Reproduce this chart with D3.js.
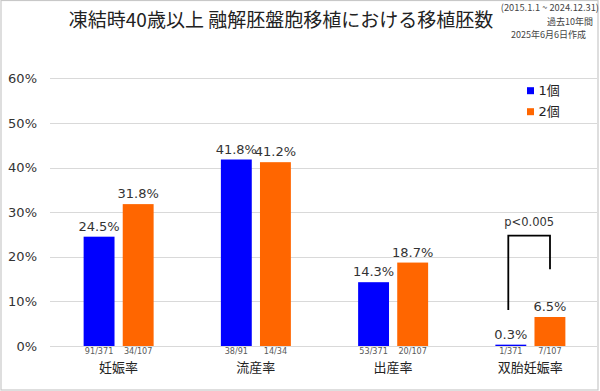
<!DOCTYPE html>
<html><head><meta charset="utf-8">
<script src="https://cdn.jsdelivr.net/npm/d3@7"></script>
<style>body{margin:0;background:#fff}svg{display:block}</style>
</head><body>
<svg id="c" width="600" height="391"></svg>
<script>
const categories = ["妊娠率", "流産率", "出産率", "双胎妊娠率"];
const series = ["1個", "2個"];
const values1 = [24.5, 41.8, 14.3, 0.3];
const values2 = [31.8, 41.2, 18.7, 6.5];
const fractions1 = ["91/371", "38/91", "53/371", "1/371"];
const fractions2 = ["34/107", "14/34", "20/107", "7/107"];
const yTicks = [0, 10, 20, 30, 40, 50, 60];
const colors = ["#0000FF", "#FF6600"];
const title = "凍結時40歳以上 融解胚盤胞移植における移植胚数";
const notes = ["(2015.1.1 ~ 2024.12.31)", "過去10年間", "2025年6月6日作成"];
const pText = "p<0.005";

const svg = d3.select("#c");
const numFont = "'DejaVu Sans', 'Noto Sans CJK JP', sans-serif";
const cjkFont = "'Noto Sans CJK JP', sans-serif";

// outer border
svg.append("rect").attr("x", 1).attr("y", 0.5).attr("width", 597).attr("height", 389.5)
  .attr("fill", "none").attr("stroke", "#c8c8c8").attr("stroke-width", 1.2);

const y = d3.scaleLinear().domain([0, 60]).range([346, 78.3]);
const x0 = d3.scaleBand().domain(categories).range([50, 599]).paddingInner(0.49).paddingOuter(0.245);
const x1 = d3.scaleBand().domain(series).range([0, x0.bandwidth()]).paddingInner(0.21);

// gridlines
svg.append("g").selectAll("line").data(yTicks).join("line")
  .attr("x1", 50).attr("x2", 597)
  .attr("y1", d => Math.round(y(d)) + 0.5).attr("y2", d => Math.round(y(d)) + 0.5)
  .attr("stroke", "#d9d9d9").attr("stroke-width", 1);

// y axis labels
const yAxis = d3.axisLeft(y).tickValues(yTicks).tickFormat(d => d + "%").tickSize(0).tickPadding(0);
const gy = svg.append("g").attr("transform", "translate(37,0)").call(yAxis);
gy.select(".domain").remove();
gy.selectAll("text").attr("font-family", numFont).attr("font-size", 13).attr("fill", "#333");

// title
svg.append("text").attr("x", 281).attr("y", 26.5).attr("text-anchor", "middle")
  .attr("font-family", cjkFont).attr("font-size", 19).attr("fill", "#222").text(title);

// notes
svg.append("text").attr("x", 599).attr("y", 11).attr("text-anchor", "end").attr("font-family", cjkFont).attr("font-size", 9.3).attr("fill", "#444").text(notes[0]);
svg.append("text").attr("x", 593).attr("y", 25).attr("text-anchor", "end").attr("font-family", cjkFont).attr("font-size", 9).attr("fill", "#444").text(notes[1]);
svg.append("text").attr("x", 586).attr("y", 37.5).attr("text-anchor", "end").attr("font-family", cjkFont).attr("font-size", 9).attr("fill", "#444").text(notes[2]);

const data = categories.map((c, i) => ({
  cat: c,
  vals: [
    {s: series[0], v: values1[i], f: fractions1[i], color: colors[0]},
    {s: series[1], v: values2[i], f: fractions2[i], color: colors[1]}
  ]
}));

const groups = svg.append("g").selectAll("g").data(data).join("g")
  .attr("transform", d => `translate(${x0(d.cat)},0)`);

groups.selectAll("rect").data(d => d.vals).join("rect")
  .attr("x", d => x1(d.s)).attr("width", x1.bandwidth())
  .attr("y", d => y(d.v)).attr("height", d => y(0) - y(d.v))
  .attr("fill", d => d.color);

groups.selectAll("text.val").data(d => d.vals).join("text").attr("class", "val")
  .attr("x", d => x1(d.s) + x1.bandwidth() / 2).attr("y", d => y(d.v) - 6)
  .attr("text-anchor", "middle").attr("font-family", numFont).attr("font-size", 13).attr("fill", "#333")
  .text(d => d.v.toFixed(1) + "%");

groups.selectAll("text.frac").data(d => d.vals).join("text").attr("class", "frac")
  .attr("x", d => x1(d.s) + x1.bandwidth() / 2).attr("y", 354)
  .attr("text-anchor", "middle").attr("font-family", "'DejaVu Sans Condensed', 'DejaVu Sans', sans-serif")
  .attr("font-size", 9).attr("fill", "#595959")
  .text(d => d.f);

groups.append("text").attr("x", x0.bandwidth() / 2).attr("y", 372)
  .attr("text-anchor", "middle").attr("font-family", cjkFont).attr("font-size", 13).attr("fill", "#222")
  .text(d => d.cat);

// legend
const lg = svg.append("g").selectAll("g").data(series).join("g")
  .attr("transform", (d, i) => `translate(527,${90.7 + i * 21})`);
lg.append("rect").attr("x", 0).attr("y", -3.5).attr("width", 7).attr("height", 7).attr("fill", (d, i) => colors[i]);
lg.append("text").attr("x", 11.5).attr("y", 4.7).attr("font-family", numFont).attr("font-size", 13).attr("fill", "#222").text(d => d);

// significance bracket over the last category
const bx1 = 508.3, bx2 = 550, by = 235.7;
svg.append("path")
  .attr("d", `M${bx1},${y(values1[3]) - 34.7}V${by}H${bx2}V${y(values2[3]) - 47.7}`)
  .attr("fill", "none").attr("stroke", "#000").attr("stroke-width", 1.8);
svg.append("text").attr("x", (bx1 + bx2) / 2).attr("y", 226)
  .attr("text-anchor", "middle").attr("font-family", numFont).attr("font-size", 11.5).attr("fill", "#333")
  .text(pText);
</script>
</body></html>
